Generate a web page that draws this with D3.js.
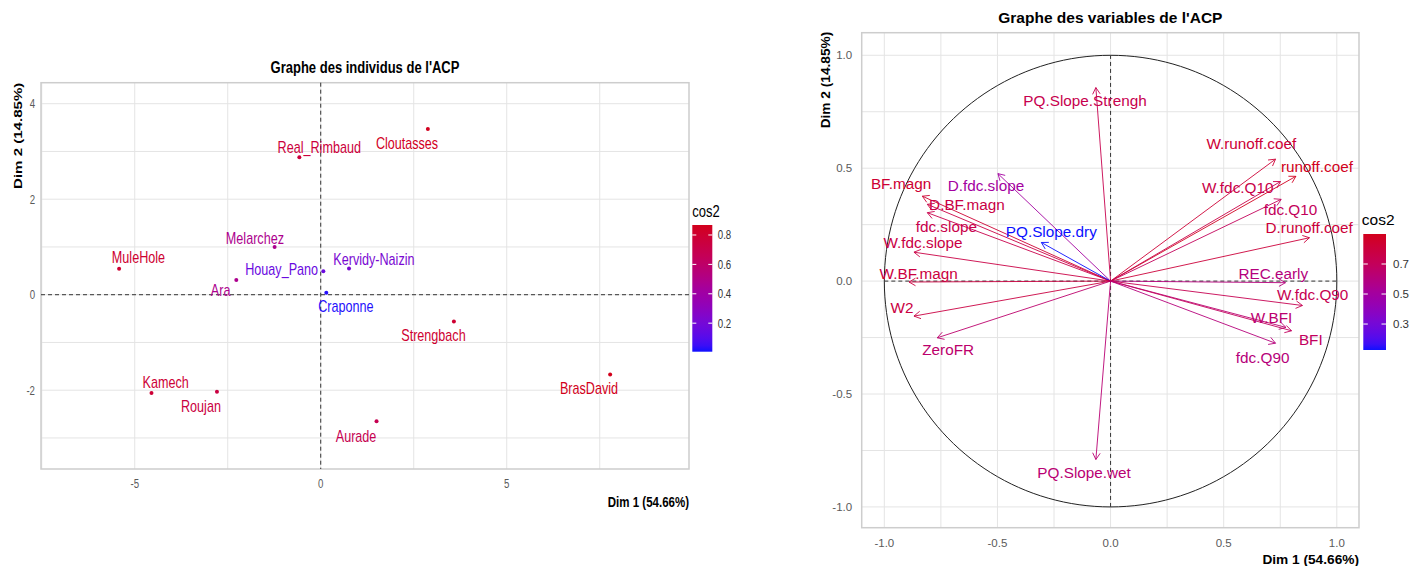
<!DOCTYPE html>
<html><head><meta charset="utf-8">
<script src="https://cdn.jsdelivr.net/npm/d3@7"></script>
<style>body{margin:0;background:#fff}svg{display:block}text{font-family:"Liberation Sans",Arial,sans-serif}</style>
</head><body><svg id="c" width="1424" height="566"></svg>
<script>
// ---------- individuals (left) ----------
const indNames = ["MuleHole","Real_Rimbaud","Cloutasses","Melarchez","Houay_Pano","Kervidy-Naizin","Ara","Craponne","Strengbach","BrasDavid","Aurade","Kamech","Roujan"];
const indDim1  = [-5.42,-0.575,2.88,-1.24,0.07,0.76,-2.27,0.15,3.58,7.78,1.5,-4.55,-2.79];
const indDim2  = [0.545,2.88,3.47,1.0,0.49,0.55,0.31,0.04,-0.56,-1.67,-2.65,-2.06,-2.03];
const indCos2  = [0.80,0.76,0.86,0.48,0.16,0.22,0.48,0.02,0.80,0.87,0.68,0.78,0.74];
const indLabelX = [-4.9,-0.04,2.32,-1.77,-1.05,1.43,-2.69,0.675,3.03,7.21,0.95,-4.17,-3.22];
const indLabelY = [0.77,3.09,3.16,1.18,0.52,0.73,0.08,-0.24,-0.85,-1.97,-2.96,-1.84,-2.35];
const indXTicks = [-5,0,5];
const indYTicks = [-2,0,2,4];
const indLegendTicks = [0.2,0.4,0.6,0.8];
const indLegendLabels = ["0.2","0.4","0.6","0.8"];
const indCos2Range = [0.006,0.868];

// ---------- variables (right) ----------
const varNames = ["PQ.Slope.Strengh","D.fdc.slope","BF.magn","D.BF.magn","fdc.slope","PQ.Slope.dry","W.fdc.slope","W.BF.magn","W2","ZeroFR","PQ.Slope.wet","W.runoff.coef","runoff.coef","W.fdc.Q10","fdc.Q10","D.runoff.coef","REC.early","W.fdc.Q90","W.BFI","BFI","fdc.Q90"];
const varDim1 = [-0.065,-0.498,-0.832,-0.81,-0.81,-0.306,-0.869,-0.891,-0.869,-0.766,-0.065,0.729,0.819,0.751,0.754,0.879,0.773,0.848,0.775,0.80,0.729];
const varDim2 = [0.857,0.476,0.376,0.34,0.303,0.171,0.128,-0.004,-0.155,-0.251,-0.79,0.54,0.464,0.441,0.362,0.192,-0.007,-0.108,-0.205,-0.22,-0.275];
const varCos2 = [0.74,0.50,0.83,0.77,0.75,0.125,0.77,0.79,0.78,0.65,0.63,0.82,0.89,0.76,0.70,0.81,0.60,0.73,0.64,0.69,0.61];
const varLabelX = [-0.113,-0.551,-0.926,-0.635,-0.726,-0.262,-0.829,-0.848,-0.922,-0.718,-0.117,0.622,0.912,0.562,0.795,0.878,0.719,0.893,0.711,0.885,0.672];
const varLabelY = [0.80,0.424,0.431,0.34,0.239,0.22,0.17,0.035,-0.118,-0.302,-0.846,0.608,0.508,0.412,0.316,0.235,0.033,-0.06,-0.162,-0.26,-0.339];
const varTicks = [-1,-0.5,0,0.5,1];
const varTickLabels = ["-1.0","-0.5","0.0","0.5","1.0"];
const varLegendTicks = [0.3,0.5,0.7];
const varLegendLabels = ["0.3","0.5","0.7"];
const varCos2Range = [0.127,0.9];

const rampStops = ["#1010FF","#7A08D2","#A5009C","#C40058","#D2001C"];

const svg = d3.select("#c");
svg.append("rect").attr("width",1424).attr("height",566).attr("fill","#fff");
const ramp = d3.piecewise(d3.interpolateLab, rampStops);
const GRID = "#E4E4E4", BORDER = "#CDCDCD", TICK = "#5a5a5a";

function txt(g, x, y, s, o) {
  o = o || {};
  const sx = o.sx || 1, sy = o.sy || 1;
  const tr = `translate(${x},${y})` + (o.rot ? ` rotate(${o.rot})` : "") + ` scale(${sx},${sy})`;
  return g.append("text").attr("transform", tr)
    .attr("text-anchor", o.anchor || "middle").attr("dy", "0.35em")
    .style("font-size", (o.size || 12) + "px")
    .style("font-weight", o.bold ? "bold" : "normal")
    .attr("fill", o.color || "#000").text(s);
}
function minorOf(ticks, dom) {
  const step = ticks[1] - ticks[0];
  const out = [];
  for (let i = -1; i < ticks.length; i++) {
    const v = (i < 0 ? ticks[0] - step : ticks[i]) + step / 2;
    if (v >= dom[0] && v <= dom[1]) out.push(v);
  }
  return out;
}

// ================= LEFT PANEL =================
(function(){
  const g = svg.append("g");
  const P = {x0:41, x1:689, y0:82.7, y1:469};
  const sx = 0.84, sy = 1.08;
  const xd = [-7.52, 9.9], yd = [-3.65, 4.44];
  const x = d3.scaleLinear().domain(xd).range([P.x0, P.x1]);
  const y = d3.scaleLinear().domain(yd).range([P.y1, P.y0]);
  const color = d3.scaleSequential(ramp).domain(indCos2Range);

  const gx = indXTicks.concat(minorOf(indXTicks, xd));
  const gy = indYTicks.concat(minorOf(indYTicks, yd));
  g.selectAll(".gx").data(gx).join("line").attr("x1", d=>x(d)).attr("x2", d=>x(d))
    .attr("y1", P.y0).attr("y2", P.y1).attr("stroke", GRID).attr("stroke-width", 1);
  g.selectAll(".gy").data(gy).join("line").attr("y1", d=>y(d)).attr("y2", d=>y(d))
    .attr("x1", P.x0).attr("x2", P.x1).attr("stroke", GRID).attr("stroke-width", 1);
  g.append("rect").attr("x", P.x0).attr("y", P.y0).attr("width", P.x1-P.x0).attr("height", P.y1-P.y0)
    .attr("fill", "none").attr("stroke", BORDER).attr("stroke-width", 1.5);
  g.append("line").attr("x1", P.x0).attr("x2", P.x1).attr("y1", y(0)).attr("y2", y(0))
    .attr("stroke", "#333").attr("stroke-dasharray", "4,3").attr("stroke-width", 1);
  g.append("line").attr("x1", x(0)).attr("x2", x(0)).attr("y1", P.y0).attr("y2", P.y1)
    .attr("stroke", "#333").attr("stroke-dasharray", "4,3").attr("stroke-width", 1);
  indXTicks.forEach(v => txt(g, x(v), P.y1 + 14.5, String(v), {size:11.5, color:TICK, sx, sy}));
  indYTicks.forEach(v => txt(g, P.x0 - 6, y(v), String(v), {size:11.5, color:TICK, sx, sy, anchor:"end"}));
  g.selectAll(".pt").data(indNames).join("circle")
    .attr("cx", (d,i)=>x(indDim1[i])).attr("cy", (d,i)=>y(indDim2[i])).attr("r", 2)
    .attr("fill", (d,i)=>color(indCos2[i]));
  indNames.forEach((n,i) => txt(g, x(indLabelX[i]), y(indLabelY[i]), n, {size:15, color:color(indCos2[i]), sx, sy:1.05}));
  txt(g, (P.x0+P.x1)/2, 66.7, "Graphe des individus de l'ACP", {size:15.5, bold:true, sx, sy});
  txt(g, P.x1, 501.7, "Dim 1 (54.66%)", {size:13.7, bold:true, sx, sy, anchor:"end"});
  txt(g, 17.5, P.y0, "Dim 2 (14.85%)", {size:13.7, bold:true, rot:-90, sx:1.1, sy:0.84, anchor:"end"});
  const LB = {x0:692.3, x1:712.3, y0:225, y1:351.7};
  const ly = d3.scaleLinear().domain(indCos2Range).range([LB.y1, LB.y0]);
  const grad = svg.append("defs").append("linearGradient").attr("id","gL")
    .attr("x1",0).attr("y1",1).attr("x2",0).attr("y2",0);
  d3.range(0, 1.0001, 0.05).forEach(t => grad.append("stop").attr("offset", t).attr("stop-color", ramp(t)));
  g.append("rect").attr("x", LB.x0).attr("y", LB.y0).attr("width", LB.x1-LB.x0).attr("height", LB.y1-LB.y0).attr("fill","url(#gL)");
  indLegendTicks.forEach((v,i) => {
    g.append("line").attr("x1", LB.x0).attr("x2", LB.x0+4).attr("y1", ly(v)).attr("y2", ly(v)).attr("stroke","#fff").attr("stroke-width",1);
    g.append("line").attr("x1", LB.x1-4).attr("x2", LB.x1).attr("y1", ly(v)).attr("y2", ly(v)).attr("stroke","#fff").attr("stroke-width",1);
    txt(g, LB.x1 + 5.5, ly(v), indLegendLabels[i], {size:11.5, color:"#333", sx, sy, anchor:"start"});
  });
  txt(g, LB.x0, 210.7, "cos2", {size:15.5, sx, sy, anchor:"start"});
})();

// ================= RIGHT PANEL =================
(function(){
  const g = svg.append("g");
  const P = {x0:861.7, x1:1359, y0:32.7, y1:527.7};
  const xd = [-1.1, 1.098], yd = [-1.092, 1.1];
  const x = d3.scaleLinear().domain(xd).range([P.x0, P.x1]);
  const y = d3.scaleLinear().domain(yd).range([P.y1, P.y0]);
  const color = d3.scaleSequential(ramp).domain(varCos2Range);

  const gx = varTicks.concat(minorOf(varTicks, xd));
  const gy = varTicks.concat(minorOf(varTicks, yd));
  g.selectAll(".gx").data(gx).join("line").attr("x1", d=>x(d)).attr("x2", d=>x(d))
    .attr("y1", P.y0).attr("y2", P.y1).attr("stroke", GRID).attr("stroke-width", 1);
  g.selectAll(".gy").data(gy).join("line").attr("y1", d=>y(d)).attr("y2", d=>y(d))
    .attr("x1", P.x0).attr("x2", P.x1).attr("stroke", GRID).attr("stroke-width", 1);
  g.append("rect").attr("x", P.x0).attr("y", P.y0).attr("width", P.x1-P.x0).attr("height", P.y1-P.y0)
    .attr("fill", "none").attr("stroke", BORDER).attr("stroke-width", 1.5);
  const circ = d3.range(0, 361, 2).map(a => [Math.cos(a*Math.PI/180), Math.sin(a*Math.PI/180)]);
  g.append("path").attr("d", d3.line().x(d=>x(d[0])).y(d=>y(d[1]))(circ))
    .attr("fill","none").attr("stroke","#222").attr("stroke-width",1);
  g.append("line").attr("x1", x(-1)).attr("x2", x(1)).attr("y1", y(0)).attr("y2", y(0))
    .attr("stroke", "#333").attr("stroke-dasharray", "4,3").attr("stroke-width", 1);
  g.append("line").attr("x1", x(0)).attr("x2", x(0)).attr("y1", y(-1)).attr("y2", y(1))
    .attr("stroke", "#333").attr("stroke-dasharray", "4,3").attr("stroke-width", 1);
  varTicks.forEach((v,i) => txt(g, x(v), P.y1 + 15.6, varTickLabels[i], {size:11.5, color:TICK}));
  varTicks.forEach((v,i) => txt(g, P.x0 - 9.5, y(v), varTickLabels[i], {size:11.5, color:TICK, anchor:"end"}));
  varNames.forEach((n,i) => {
    const x0 = x(0), y0 = y(0), x1 = x(varDim1[i]), y1 = y(varDim2[i]);
    const c = color(varCos2[i]);
    const ang = Math.atan2(y1-y0, x1-x0), L = 7.5, A = Math.PI/6;
    const p = d3.path();
    p.moveTo(x0,y0); p.lineTo(x1,y1);
    p.moveTo(x1 - L*Math.cos(ang-A), y1 - L*Math.sin(ang-A)); p.lineTo(x1,y1);
    p.lineTo(x1 - L*Math.cos(ang+A), y1 - L*Math.sin(ang+A));
    g.append("path").attr("d", p.toString()).attr("fill","none").attr("stroke", c).attr("stroke-width", 0.9);
  });
  varNames.forEach((n,i) => txt(g, x(varLabelX[i]), y(varLabelY[i]), n, {size:15.3, color:color(varCos2[i])}));
  txt(g, (P.x0+P.x1)/2, 17.3, "Graphe des variables de l'ACP", {size:15.5, bold:true});
  txt(g, P.x1, 559, "Dim 1 (54.66%)", {size:13.7, bold:true, anchor:"end"});
  txt(g, 825, P.y0 - 1, "Dim 2 (14.85%)", {size:13.7, bold:true, rot:-90, anchor:"end"});
  const LB = {x0:1363.3, x1:1386, y0:234, y1:350};
  const ly = d3.scaleLinear().domain(varCos2Range).range([LB.y1, LB.y0]);
  const grad = svg.append("defs").append("linearGradient").attr("id","gR")
    .attr("x1",0).attr("y1",1).attr("x2",0).attr("y2",0);
  d3.range(0, 1.0001, 0.05).forEach(t => grad.append("stop").attr("offset", t).attr("stop-color", ramp(t)));
  g.append("rect").attr("x", LB.x0).attr("y", LB.y0).attr("width", LB.x1-LB.x0).attr("height", LB.y1-LB.y0).attr("fill","url(#gR)");
  varLegendTicks.forEach((v,i) => {
    g.append("line").attr("x1", LB.x0).attr("x2", LB.x0+4.5).attr("y1", ly(v)).attr("y2", ly(v)).attr("stroke","#fff").attr("stroke-width",1);
    g.append("line").attr("x1", LB.x1-4.5).attr("x2", LB.x1).attr("y1", ly(v)).attr("y2", ly(v)).attr("stroke","#fff").attr("stroke-width",1);
    txt(g, LB.x1 + 7, ly(v), varLegendLabels[i], {size:11.5, color:"#333", anchor:"start"});
  });
  txt(g, LB.x0 - 1.5, 219.7, "cos2", {size:15.5, anchor:"start"});
})();
</script></body></html>
